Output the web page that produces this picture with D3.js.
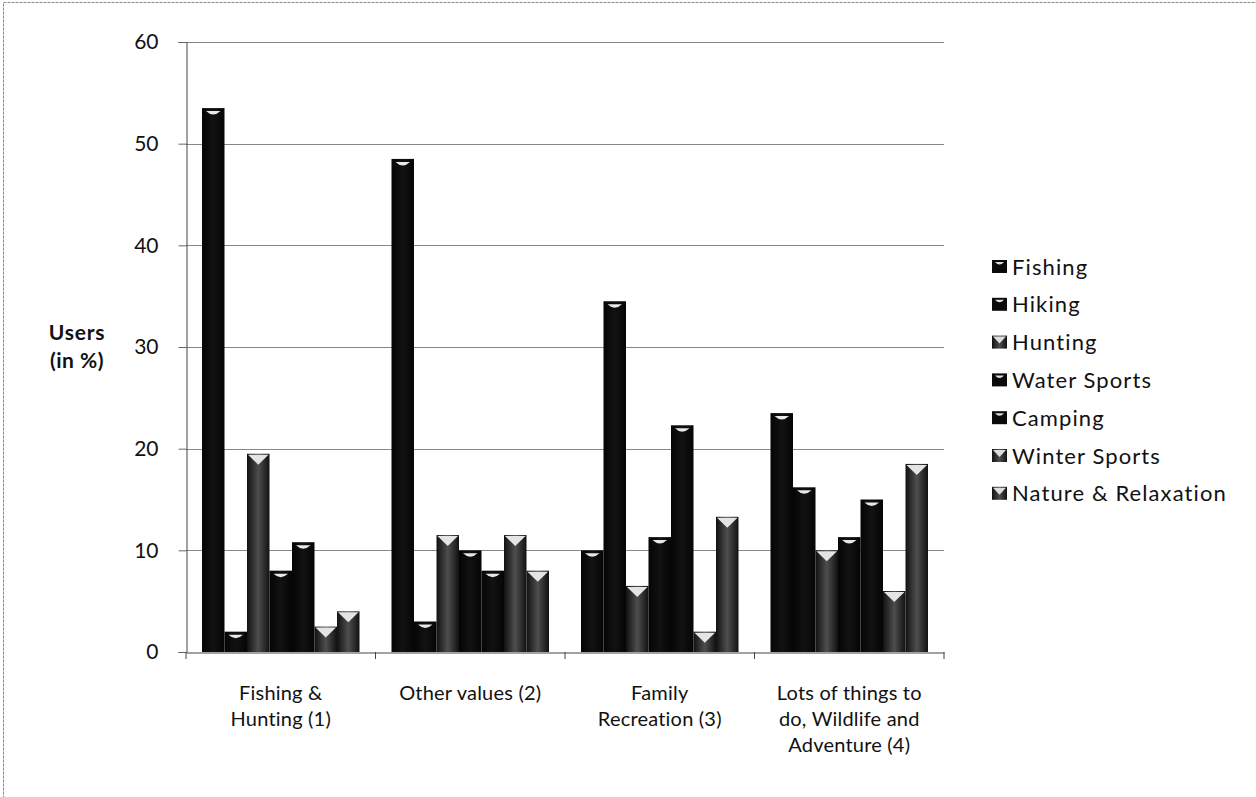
<!DOCTYPE html>
<html>
<head>
<meta charset="utf-8">
<title>Users by segment</title>
<style>
  body { margin: 0; background: #fff; }
  svg text { font-family: Lato, "Open Sans", sans-serif; fill: #111; }
</style>
<script src="https://d3js.org/d3.v7.min.js"></script>
</head>
<body>
<svg id="chart" width="1256" height="797"></svg>
<script>
// categories along the x axis (label lines)
var categories = [
  ["Fishing &", "Hunting (1)"],
  ["Other values (2)"],
  ["Family", "Recreation (3)"],
  ["Lots of things to", "do, Wildlife and", "Adventure (4)"]
];
var seriesNames = ["Fishing", "Hiking", "Hunting", "Water Sports", "Camping", "Winter Sports", "Nature & Relaxation"];
// values per series, one per category (users in %)
var fishing  = [53.5, 48.5, 10.0, 23.5];
var hiking   = [2.0, 3.0, 34.5, 16.2];
var hunting  = [19.5, 11.5, 6.5, 10.0];
var water    = [8.0, 10.0, 11.3, 11.3];
var camping  = [10.8, 8.0, 22.3, 15.0];
var winter   = [2.5, 11.5, 2.0, 6.0];
var nature   = [4.0, 8.0, 13.3, 18.5];
var yTicks = [0, 10, 20, 30, 40, 50, 60];

var seriesValues = [fishing, hiking, hunting, water, camping, winter, nature];
// grey (speckled) series in the scan, others print solid black
var greySeries = {"Hunting": true, "Winter Sports": true, "Nature & Relaxation": true};

var svg = d3.select("#chart");

// outer frame
svg.append("rect").attr("x", 3.5).attr("y", 2.5).attr("width", 1262).attr("height", 800)
  .attr("fill", "none").attr("stroke", "#888").attr("stroke-width", 1).attr("stroke-dasharray", "3,1");

var x0 = d3.scaleBand().domain(d3.range(categories.length)).range([186, 944]).paddingInner(0).paddingOuter(0);
var x1 = d3.scaleBand().domain(seriesNames).range([16, x0.bandwidth() - 16]);
var y = d3.scaleLinear().domain([0, 60]).range([652, 42]);

var defs = svg.append("defs");
var g1 = defs.append("linearGradient").attr("id", "greyFill").attr("x1", 0).attr("x2", 1).attr("y1", 0).attr("y2", 0);
g1.append("stop").attr("offset", "0%").attr("stop-color", "#111");
g1.append("stop").attr("offset", "50%").attr("stop-color", "#4e4e4e");
g1.append("stop").attr("offset", "100%").attr("stop-color", "#111");
var g2 = defs.append("linearGradient").attr("id", "blackFill").attr("x1", 0).attr("x2", 1).attr("y1", 0).attr("y2", 0);
g2.append("stop").attr("offset", "0%").attr("stop-color", "#050505");
g2.append("stop").attr("offset", "50%").attr("stop-color", "#121212");
g2.append("stop").attr("offset", "100%").attr("stop-color", "#050505");

// gridlines
svg.append("g").selectAll("line").data(yTicks.filter(function (d) { return d > 0; })).join("line")
  .attr("x1", 186).attr("x2", 944)
  .attr("y1", function (d) { return Math.round(y(d)) + 0.5; })
  .attr("y2", function (d) { return Math.round(y(d)) + 0.5; })
  .attr("stroke", "#888").attr("stroke-width", 1);

// y axis
var yAxis = svg.append("g").attr("transform", "translate(186.5,0)")
  .call(d3.axisLeft(y).tickValues(yTicks).tickSize(8).tickPadding(20));
yAxis.select(".domain").attr("stroke", "#444");
yAxis.selectAll(".tick line").attr("stroke", "#666");
yAxis.selectAll("text").attr("font-size", 21).style("font-family", "Lato, sans-serif").attr("fill", "#111");

// x axis
var xAxis = svg.append("g").attr("transform", "translate(0,652.5)")
  .call(d3.axisBottom(x0).tickSize(0).tickFormat(""));
xAxis.select(".domain").attr("stroke", "#444");
svg.append("g").selectAll("line").data(d3.range(categories.length + 1)).join("line")
  .attr("x1", function (i) { return 186 + i * x0.bandwidth(); })
  .attr("x2", function (i) { return 186 + i * x0.bandwidth(); })
  .attr("y1", 652).attr("y2", 659).attr("stroke", "#444");

// category labels
svg.append("g").selectAll("text").data(categories).join("text")
  .attr("text-anchor", "middle").attr("font-size", 20).attr("letter-spacing", 0.2)
  .attr("transform", function (d, i) { return "translate(" + (x0(i) + x0.bandwidth() / 2) + ",700)"; })
  .selectAll("tspan").data(function (d) { return d; }).join("tspan")
  .attr("x", 0).attr("dy", function (d, i) { return i === 0 ? 0 : 26; })
  .text(function (d) { return d; });

// bars
var groups = svg.append("g").selectAll("g").data(categories).join("g")
  .attr("transform", function (d, i) { return "translate(" + x0(i) + ",0)"; });

groups.each(function (c, ci) {
  var g = d3.select(this);
  var rows = seriesNames.map(function (s, si) { return {name: s, value: seriesValues[si][ci]}; });
  g.selectAll("rect").data(rows).join("rect")
    .attr("x", function (d) { return x1(d.name); })
    .attr("y", function (d) { return y(d.value); })
    .attr("width", x1.bandwidth())
    .attr("height", function (d) { return y(0) - y(d.value); })
    .attr("fill", function (d) { return greySeries[d.name] ? "url(#greyFill)" : "url(#blackFill)"; });
  // top caps: small white notch for black bars, V shape for grey bars
  g.selectAll("path").data(rows).join("path")
    .attr("d", function (d) {
      var bx = x1(d.name), w = x1.bandwidth(), ty = y(d.value);
      if (greySeries[d.name]) {
        return "M" + (bx + 1) + "," + (ty + 1) + "L" + (bx + w - 1) + "," + (ty + 1) +
          "L" + (bx + w / 2) + "," + (ty + 11) + "Z";
      }
      return "M" + (bx + 4) + "," + (ty + 3) + "Q" + (bx + w / 2) + "," + (ty + 10) + " " + (bx + w - 4) + "," + (ty + 3) + "Z";
    })
    .attr("fill", function (d) { return greySeries[d.name] ? "#e4e4e4" : "#e8e8e8"; });
});

// y axis title
svg.append("text").attr("x", 77).attr("y", 340).attr("text-anchor", "middle")
  .attr("font-size", 21).attr("font-weight", "bold").attr("letter-spacing", 0.8).text("Users");
svg.append("text").attr("x", 77).attr("y", 368).attr("text-anchor", "middle")
  .attr("font-size", 21).attr("font-weight", "bold").attr("letter-spacing", 0.5).text("(in %)");

// legend
var legend = svg.append("g").selectAll("g").data(seriesNames).join("g")
  .attr("transform", function (d, i) { return "translate(992," + (267 + i * 37.8) + ")"; });
legend.append("rect").attr("x", 0).attr("y", -7).attr("width", 15).attr("height", 13)
  .attr("fill", function (d) { return greySeries[d] ? "url(#greyFill)" : "#0a0a0a"; });
legend.append("path")
  .attr("d", function (d) { return greySeries[d] ? "M1,-6L14,-6L7.5,1Z" : "M3,-5Q7.5,0 12,-5Z"; })
  .attr("fill", "#ddd");
legend.append("text").attr("x", 20).attr("y", 7.5).attr("font-size", 22).attr("letter-spacing", 1.1)
  .text(function (d) { return d; });
</script>
</body>
</html>
